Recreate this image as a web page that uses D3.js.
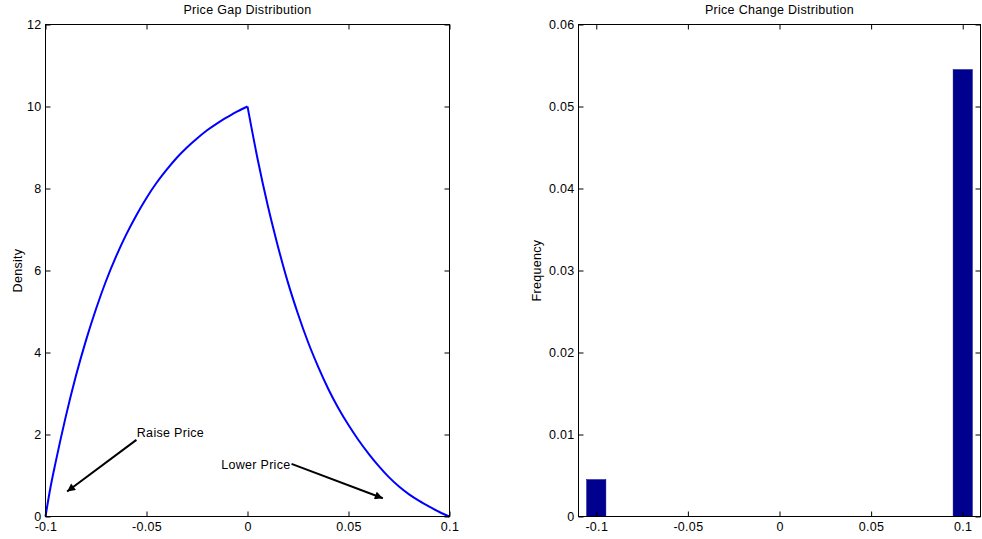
<!DOCTYPE html>
<html>
<head>
<meta charset="utf-8">
<script src="https://cdn.jsdelivr.net/npm/d3@7"></script>
<style>
  body { margin: 0; background: #fff; }
  svg text { font-family: "Liberation Sans", Arial, sans-serif; font-size: 12.5px; letter-spacing: 0.3px; fill: #000; }
</style>
</head>
<body>
<div id="chartDiv"></div>
<script>
// price gap density (left panel)
var gapX = [-0.1, -0.0975, -0.095, -0.09, -0.085, -0.08, -0.075, -0.07, -0.065, -0.06, -0.055, -0.05,
            -0.045, -0.04, -0.035, -0.03, -0.025, -0.02, -0.015, -0.01, -0.005, 0,
            0.005, 0.01, 0.015, 0.02, 0.025, 0.03, 0.035, 0.04, 0.045, 0.05,
            0.055, 0.06, 0.065, 0.07, 0.075, 0.08, 0.085, 0.09, 0.095, 0.1];
var gapDensity = [0, 0.72, 1.32, 2.43, 3.42, 4.29, 5.06, 5.75, 6.35, 6.88, 7.35, 7.77,
                  8.14, 8.46, 8.75, 9.0, 9.22, 9.42, 9.59, 9.74, 9.88, 10,
                  8.72, 7.59, 6.6, 5.71, 4.94, 4.25, 3.65, 3.11, 2.64, 2.23,
                  1.86, 1.53, 1.23, 0.96, 0.73, 0.54, 0.38, 0.24, 0.11, 0];
var gapTicksX = [-0.1, -0.05, 0, 0.05, 0.1];
var gapTicksY = [0, 2, 4, 6, 8, 10, 12];

// price change histogram (right panel)
var changeBins = [-0.1, -0.0895, -0.0789, -0.0684, -0.0579, -0.0474, -0.0368, -0.0263, -0.0158, -0.0053,
                  0.0053, 0.0158, 0.0263, 0.0368, 0.0474, 0.0579, 0.0684, 0.0789, 0.0895, 0.1];
var changeFreq = [0.0045, 0, 0, 0, 0, 0, 0, 0, 0, 0,
                  0, 0, 0, 0, 0, 0, 0, 0, 0, 0.0545];
var changeTicksX = [-0.1, -0.05, 0, 0.05, 0.1];
var changeTicksY = [0, 0.01, 0.02, 0.03, 0.04, 0.05, 0.06];

// annotations: [label, textX, textY, anchor, fromX, fromY, toX, toY]
var notes = [
  ["Raise Price", -0.0548, 1.93, "start", -0.055, 1.87, -0.0893, 0.61],
  ["Lower Price", 0.0213, 1.17, "end", 0.0218, 1.285, 0.067, 0.446]
];

var width = 982, height = 539;
var svg = d3.select('#chartDiv').append('svg')
  .attr('width', width)
  .attr('height', height);

svg.append('defs').append('marker')
  .attr('id', 'arrowHead')
  .attr('viewBox', '0 0 10 10')
  .attr('refX', 10).attr('refY', 5)
  .attr('markerWidth', 10).attr('markerHeight', 8)
  .attr('markerUnits', 'userSpaceOnUse')
  .attr('orient', 'auto')
  .append('path')
  .attr('d', 'M0,0 L10,5 L0,10 Z')
  .attr('fill', '#000');

function fmt(v){
  return v === 0 ? "0" : String(+v.toFixed(3));
}

// draws a matlab-like boxed axes with ticks on all four sides
function drawFrame(g, x, y, xTicks, yTicks, title, yLabel, labelOffset){
  var x0 = x.range()[0], x1 = x.range()[1];
  var y0 = y.range()[0], y1 = y.range()[1];
  var tl = 5;

  g.append('g').attr('transform', 'translate(0,' + y0 + ')')
    .call(d3.axisBottom(x).tickValues(xTicks).tickSize(-tl).tickPadding(6).tickFormat(fmt));
  g.append('g').attr('transform', 'translate(0,' + y1 + ')')
    .call(d3.axisTop(x).tickValues(xTicks).tickSize(-tl).tickFormat(''));
  g.append('g').attr('transform', 'translate(' + x0 + ',0)')
    .call(d3.axisLeft(y).tickValues(yTicks).tickSize(-tl).tickPadding(4).tickFormat(fmt));
  g.append('g').attr('transform', 'translate(' + x1 + ',0)')
    .call(d3.axisRight(y).tickValues(yTicks).tickSize(-tl).tickFormat(''));

  g.selectAll('.domain').remove();
  g.selectAll('.tick line').attr('stroke', '#000');
  g.selectAll('.tick text').attr('fill', '#000').style('font-size', '12.5px').style('font-family', null);

  g.append('rect')
    .attr('x', x0).attr('y', y1)
    .attr('width', x1 - x0).attr('height', y0 - y1)
    .attr('fill', 'none').attr('stroke', '#000').attr('stroke-width', 1);

  g.append('text')
    .attr('x', (x0 + x1) / 2).attr('y', y1 - 10.5)
    .attr('text-anchor', 'middle')
    .text(title);

  g.append('text')
    .attr('transform', 'translate(' + (x0 - labelOffset) + ',' + ((y0 + y1) / 2) + ') rotate(-90)')
    .attr('text-anchor', 'middle')
    .text(yLabel);
}

// left panel
var xGap = d3.scaleLinear().domain([-0.1, 0.1]).range([45.5, 449.5]);
var yGap = d3.scaleLinear().domain([0, 12]).range([516.5, 24.5]);
var gLeft = svg.append('g');

var line = d3.line()
  .curve(d3.curveMonotoneX)
  .x(function(d){ return xGap(d[0]); })
  .y(function(d){ return yGap(d[1]); });

var gapPoints = gapX.map(function(v, i){ return [v, gapDensity[i]]; });
var gapSides = [
  gapPoints.filter(function(p){ return p[0] <= 0; }),
  gapPoints.filter(function(p){ return p[0] >= 0; })
];

gLeft.selectAll('path.gap')
  .data(gapSides)
  .enter()
  .append('path')
  .attr('class', 'gap')
  .attr('d', line)
  .attr('fill', 'none')
  .attr('stroke', '#0000ff')
  .attr('stroke-width', 2)
  .attr('stroke-linejoin', 'miter');

drawFrame(gLeft, xGap, yGap, gapTicksX, gapTicksY, 'Price Gap Distribution', 'Density', 24);

notes.forEach(function(n){
  gLeft.append('line')
    .attr('x1', xGap(n[4])).attr('y1', yGap(n[5]))
    .attr('x2', xGap(n[6])).attr('y2', yGap(n[7]))
    .attr('stroke', '#000').attr('stroke-width', 2)
    .attr('marker-end', 'url(#arrowHead)');
  gLeft.append('text')
    .attr('x', xGap(n[1])).attr('y', yGap(n[2]))
    .attr('text-anchor', n[3])
    .text(n[0]);
});

// right panel
var xChange = d3.scaleLinear().domain([-0.1097, 0.1097]).range([578.5, 980.5]);
var yChange = d3.scaleLinear().domain([0, 0.06]).range([516.5, 24.5]);
var gRight = svg.append('g');
var binW = xChange(changeBins[1]) - xChange(changeBins[0]);

gRight.selectAll('rect.bar')
  .data(changeFreq)
  .enter()
  .append('rect')
  .attr('class', 'bar')
  .attr('x', function(d, i){ return xChange(changeBins[i]) - binW / 2; })
  .attr('y', function(d){ return yChange(d); })
  .attr('width', binW)
  .attr('height', function(d){ return yChange(0) - yChange(d); })
  .attr('fill', '#00008f')
  .attr('stroke', '#00008f')
  .attr('stroke-width', 0.5);

drawFrame(gRight, xChange, yChange, changeTicksX, changeTicksY, 'Price Change Distribution', 'Frequency', 38);
</script>
</body>
</html>
